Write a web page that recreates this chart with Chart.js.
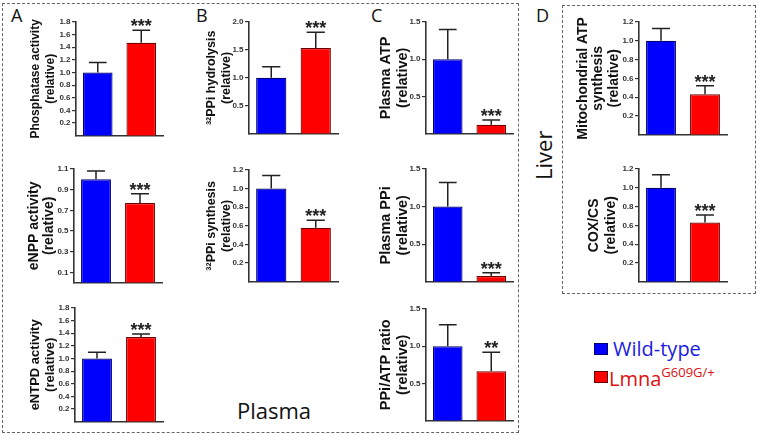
<!DOCTYPE html>
<html>
<head>
<meta charset="utf-8">
<script src="https://cdn.jsdelivr.net/npm/chart.js@4.4.1/dist/chart.umd.min.js"></script>
<style>
  html, body { margin: 0; padding: 0; background: #fff; }
  #page { position: relative; width: 757px; height: 434px; overflow: hidden; font-family: "Open Sans", "Noto Sans", sans-serif; }
  canvas { position: absolute; }
  .box { position: absolute; border: 1px dashed #666; box-sizing: border-box; }
  .lbl { position: absolute; color: #111; line-height: 1; white-space: nowrap; }
  .sw { position: absolute; width: 14px; height: 12px; box-sizing: border-box; }
</style>
</head>
<body>
<div id="page">
  <div class="box" style="left:2px;top:3px;width:517px;height:430px;"></div>
  <div class="box" style="left:562px;top:5px;width:194px;height:289px;"></div>

  <div class="lbl" style="left:11px;top:6px;font-size:18px;">A</div>
  <div class="lbl" style="left:196px;top:6px;font-size:18px;">B</div>
  <div class="lbl" style="left:371px;top:6px;font-size:18px;">C</div>
  <div class="lbl" style="left:536px;top:6px;font-size:18px;">D</div>

  <div class="lbl" style="left:237px;top:399px;font-size:22px;">Plasma</div>
  <div class="lbl" style="left:519px;top:145px;width:48px;font-size:22px;transform:rotate(-90deg);transform-origin:24px 11px;">Liver</div>

  <div class="sw" style="left:594px;top:343px;background:#0000fe;border:1px solid #000070;"></div>
  <div class="lbl" style="left:613px;top:339px;font-size:20px;color:#1a1ae6;">Wild-type</div>
  <div class="sw" style="left:594px;top:371px;background:#fe0000;border:1px solid #600000;"></div>
  <div class="lbl" style="left:609px;top:366px;font-size:20px;color:#e01010;">Lmna<sup style="font-size:13px;vertical-align:9px;">G609G/+</sup></div>
</div>

<script>
// groups (x categories)
const groupLabels = ['Wild-type', 'LmnaG609G/+'];

// one entry per small chart: A1 A2 A3 B1 B2 C1 C2 C3 D1 D2
const yTitles = [
    ['Phosphatase activity', '(relative)'],
    ['eNPP activity', '(relative)'],
    ['eNTPD activity', '(relative)'],
    ['\u00b3\u00b2PPi hydrolysis', '(relative)'],
    ['\u00b3\u00b2PPi synthesis', '(relative)'],
    ['Plasma ATP', '(relative)'],
    ['Plasma PPi', '(relative)'],
    ['PPi/ATP ratio', '(relative)'],
    ['Mitochondrial ATP', 'synthesis', '(relative)'],
    ['COX/CS', '(relative)']
];
const wildTypeMean = [1.0, 1.0, 1.0, 1.0, 1.0, 1.0, 1.0, 1.0, 1.0, 1.0];
const wildTypeErr  = [0.16, 0.08, 0.10, 0.20, 0.14, 0.40, 0.32, 0.29, 0.13, 0.14];
const mutantMean   = [1.47, 0.77, 1.34, 1.535, 0.58, 0.12, 0.075, 0.665, 0.43, 0.63];
const mutantErr    = [0.20, 0.09, 0.05, 0.28, 0.08, 0.065, 0.045, 0.255, 0.09, 0.08];
const starLabels   = ['***', '***', '***', '***', '***', '***', '***', '**', '***', '***'];
const yMax = [1.8, 1.1, 1.8, 2.0, 1.2, 1.5, 1.5, 1.5, 1.2, 1.2];
const yTicks = [
    [0.2, 0.4, 0.6, 0.8, 1.0, 1.2, 1.4, 1.6, 1.8],
    [0.1, 0.3, 0.5, 0.7, 0.9, 1.1],
    [0.2, 0.4, 0.6, 0.8, 1.0, 1.2, 1.4, 1.6, 1.8],
    [0.5, 1.0, 1.5, 2.0],
    [0.2, 0.4, 0.6, 0.8, 1.0, 1.2],
    [0.5, 1.0, 1.5],
    [0.5, 1.0, 1.5],
    [0.5, 1.0, 1.5],
    [0.2, 0.4, 0.6, 0.8, 1.0, 1.2],
    [0.2, 0.4, 0.6, 0.8, 1.0, 1.2]
];

// page placement of each plot (axis x, right end, top of axis, baseline, first title line centre)
const frames = [
    { x: 76,  r: 163, t: 22,  b: 139, c1: 35,  lh: 15, fs: 12 },
    { x: 74,  r: 162, t: 169, b: 286, c1: 34,  lh: 15, fs: 14 },
    { x: 75,  r: 163, t: 308, b: 425, c1: 35,  lh: 15, fs: 13 },
    { x: 249, r: 338, t: 22,  b: 137, c1: 211, lh: 15, fs: 12.5 },
    { x: 249, r: 338, t: 170, b: 285, c1: 211, lh: 15, fs: 12.5 },
    { x: 426, r: 513, t: 22,  b: 137, c1: 385, lh: 17, fs: 14.5 },
    { x: 426, r: 513, t: 169, b: 285, c1: 385, lh: 17, fs: 14.5 },
    { x: 426, r: 513, t: 309, b: 424, c1: 385, lh: 17, fs: 14.5 },
    { x: 639, r: 727, t: 22,  b: 138, c1: 583, lh: 15.5, fs: 14 },
    { x: 639, r: 727, t: 169, b: 285, c1: 594, lh: 17, fs: 14 }
];

const axisColor = '#333';
const PAD_TOP = 16, PAD_BOTTOM = 3, PAD_RIGHT = 4, TITLE_PAD = 2;

// error bars (upper whisker only) + significance stars
const errorBarPlugin = {
    id: 'errorBars',
    afterDatasetsDraw(chart) {
        const ctx = chart.ctx;
        const yScale = chart.scales.y;
        const ds = chart.data.datasets[0];
        const meta = chart.getDatasetMeta(0);
        ctx.save();
        meta.data.forEach((bar, i) => {
            const mean = ds.data[i];
            const top = mean + ds.errors[i];
            const y0 = yScale.getPixelForValue(mean);
            const y1 = yScale.getPixelForValue(top);
            const half = bar.width * 0.3;
            ctx.strokeStyle = '#222';
            ctx.lineWidth = 1.5;
            ctx.beginPath();
            ctx.moveTo(bar.x, y0);
            ctx.lineTo(bar.x, y1);
            ctx.moveTo(bar.x - half, y1);
            ctx.lineTo(bar.x + half, y1);
            ctx.stroke();
            if (i === 1 && ds.stars) {
                ctx.fillStyle = '#222';
                ctx.font = 'bold 18px "Liberation Sans", Arial, sans-serif';
                ctx.textAlign = 'center';
                ctx.textBaseline = 'alphabetic';
                ctx.fillText(ds.stars, bar.x, y1 + 2);
            }
        });
        ctx.restore();
    }
};

const page = document.getElementById('page');

frames.forEach((f, k) => {
    const canvasLeft = Math.round(f.c1 - TITLE_PAD - f.lh / 2);
    const canvasTop = f.t - PAD_TOP;
    const yWidth = f.x - canvasLeft;
    const canvas = document.createElement('canvas');
    canvas.width = f.r - canvasLeft + PAD_RIGHT;
    canvas.height = f.b - canvasTop + PAD_BOTTOM;
    canvas.style.left = canvasLeft + 'px';
    canvas.style.top = canvasTop + 'px';
    page.appendChild(canvas);

    const ticks = yTicks[k];

    new Chart(canvas, {
        type: 'bar',
        data: {
            labels: groupLabels,
            datasets: [{
                data: [wildTypeMean[k], mutantMean[k]],
                errors: [wildTypeErr[k], mutantErr[k]],
                stars: starLabels[k],
                backgroundColor: ['#0000fe', '#fe0000'],
                borderColor: ['#000070', '#700000'],
                borderWidth: 1.2,
                barPercentage: 0.68,
                categoryPercentage: 1.0
            }]
        },
        options: {
            responsive: false,
            animation: false,
            events: [],
            layout: { padding: { top: PAD_TOP, right: PAD_RIGHT, bottom: PAD_BOTTOM, left: 0 } },
            plugins: { legend: { display: false }, tooltip: { enabled: false } },
            scales: {
                x: {
                    grid: { display: false, drawTicks: false },
                    ticks: { display: false },
                    border: { display: true, color: axisColor, width: 1.6 },
                    afterFit: s => { s.height = 0; }
                },
                y: {
                    min: 0,
                    max: yMax[k],
                    afterBuildTicks: s => { s.ticks = ticks.map(v => ({ value: v })); },
                    afterFit: s => { s.width = yWidth; },
                    grid: { drawOnChartArea: false, drawTicks: true, tickLength: 4, color: axisColor, lineWidth: 1.2 },
                    border: { display: true, color: axisColor, width: 1.6 },
                    ticks: {
                        padding: 1.5,
                        color: '#333',
                        font: { family: '"Liberation Sans", Arial, sans-serif', size: 8, weight: 'bold' },
                        callback: v => v.toFixed(1)
                    },
                    title: {
                        display: true,
                        text: yTitles[k],
                        color: '#111',
                        padding: { top: TITLE_PAD, bottom: 0 },
                        font: { family: '"Liberation Sans", Arial, sans-serif', size: f.fs, weight: 'bold', lineHeight: f.lh / f.fs }
                    }
                }
            }
        },
        plugins: [errorBarPlugin]
    });
});
</script>
</body>
</html>
